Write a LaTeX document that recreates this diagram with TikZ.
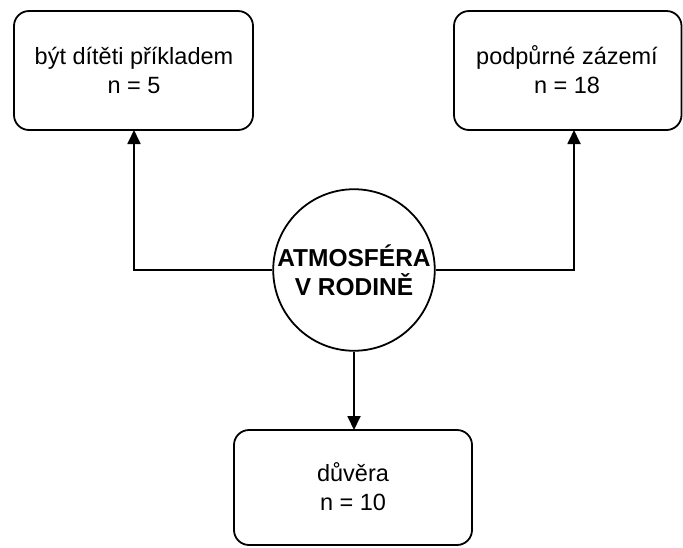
\documentclass[tikz,border=0pt]{standalone}
\usepackage{fontspec}
\setmainfont{Liberation Sans}
\usetikzlibrary{arrows.meta}
\begin{document}
\begin{tikzpicture}[x=1pt,y=-1pt,
  box/.style={draw=black,line width=1.8pt,rounded corners=15pt,fill=white},
  txt/.style={align=center,font=\fontsize{23.5}{29}\selectfont,text=black},
  conn/.style={draw=black,line width=1.8pt,-{Triangle[length=14pt,width=13pt]}}]
\useasboundingbox (0,0) rectangle (683,547);
\draw[box] (14,11) rectangle (253,130);
\node[txt] (a) at (134,70) {být dítěti příkladem\\n = 5};
\coordinate (aB) at (134,130);
\draw[box] (454,11) rectangle (681.5,130);
\node[txt] (b) at (567,70) {podpůrné zázemí\\n = 18};
\coordinate (bB) at (574,130);
\draw[box] (234,430) rectangle (472,545);
\node[txt] (c) at (353,487) {důvěra\\n = 10};
\coordinate (cT) at (354,430);
\node[draw=black,line width=1.8pt,circle,minimum size=160pt,inner sep=0pt,fill=white,
  align=center,font=\bfseries\fontsize{24.5}{29}\selectfont] (m) at (354,270) {ATMOSFÉRA\\V RODINĚ};
\draw[conn] (m.west) -| (aB);
\draw[conn] (m.east) -| (bB);
\draw[conn] (m.south) -- (cT);
\end{tikzpicture}
\end{document}
